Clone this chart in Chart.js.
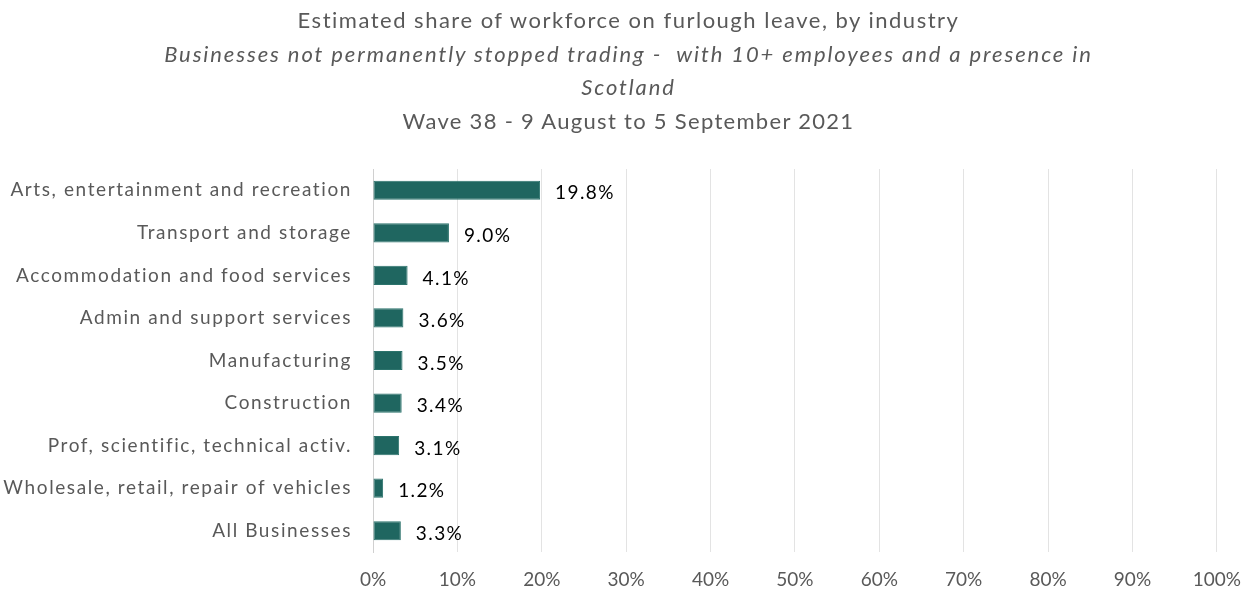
<!DOCTYPE html>
<html>
<head>
<meta charset="utf-8">
<script src="https://cdn.jsdelivr.net/npm/chart.js@4/dist/chart.umd.min.js"></script>
<style>
  html, body { margin: 0; padding: 0; background: #ffffff; }
  #wrap { position: relative; width: 1257px; height: 594px; }
  #titles { position: absolute; left: 0; top: 0; width: 1257px; text-align: center; color: #595959; font-family: Lato, "Open Sans", sans-serif; font-size: 22px; pointer-events: none; }
  #titles div { position: absolute; left: 0; width: 1257px; text-align: center; white-space: pre; }
  .it { font-style: italic; }
  canvas { position: absolute; left: 0; top: 0; }
</style>
</head>
<body>
<div id="wrap">
  <canvas id="c" width="1257" height="594"></canvas>
  <div id="titles"></div>
</div>
<script>
const titleLines = [
  "Estimated share of workforce on furlough leave, by industry",
  "Businesses not permanently stopped trading -  with 10+ employees and a presence in",
  "Scotland",
  "Wave 38 - 9 August to 5 September 2021"
];
const titleItalic = [false, true, true, false];
const titleTops = [6, 40, 73, 107];
const titleSpacing = [1.5, 1.9, 1.9, 1.3];

const categories = [
  "Arts, entertainment and recreation",
  "Transport and storage",
  "Accommodation and food services",
  "Admin and support services",
  "Manufacturing",
  "Construction",
  "Prof, scientific, technical activ.",
  "Wholesale, retail, repair of vehicles",
  "All Businesses"
];
const shareValues = [19.8, 9.0, 4.1, 3.6, 3.5, 3.4, 3.1, 1.2, 3.3];
const xTickValues = [0, 10, 20, 30, 40, 50, 60, 70, 80, 90, 100];

const tdiv = document.getElementById('titles');
titleLines.forEach((t, i) => {
  const d = document.createElement('div');
  d.textContent = t;
  if (titleItalic[i]) d.className = 'it';
  d.style.top = titleTops[i] + 'px';
  d.style.letterSpacing = titleSpacing[i] + 'px';
  tdiv.appendChild(d);
});

const valueLabels = {
  id: 'valueLabels',
  afterDatasetsDraw(chart) {
    const ctx = chart.ctx;
    const meta = chart.getDatasetMeta(0);
    ctx.save();
    ctx.font = '19px Lato, "Open Sans", sans-serif';
    ctx.letterSpacing = '1.4px';
    ctx.fillStyle = '#000000';
    ctx.textAlign = 'left';
    ctx.textBaseline = 'middle';
    meta.data.forEach((bar, i) => {
      ctx.fillText(shareValues[i].toFixed(1) + '%', bar.x + 15, bar.y + 3);
    });
    ctx.restore();
    // y-axis tick labels are drawn after this hook (ticks.z = 1): widen them
    ctx.letterSpacing = '1.6px';
  },
  afterDraw(chart) {
    chart.ctx.letterSpacing = '0px';
  }
};

new Chart(document.getElementById('c'), {
  type: 'bar',
  data: {
    labels: categories,
    datasets: [{
      data: shareValues,
      backgroundColor: '#1f6660',
      borderColor: '#2c736c',
      borderWidth: 1,
      borderSkipped: false,
      categoryPercentage: 1.0,
      barPercentage: 0.45
    }]
  },
  options: {
    indexAxis: 'y',
    responsive: false,
    animation: false,
    devicePixelRatio: 1,
    layout: { padding: { top: 169, right: 39, left: 0, bottom: 0 } },
    plugins: {
      legend: { display: false },
      title: { display: false },
      tooltip: { enabled: false }
    },
    scales: {
      x: {
        min: 0,
        max: 100,
        afterBuildTicks(scale) { scale.ticks = xTickValues.map(v => ({ value: v })); },
        afterFit(scale) { scale.height = 42; },
        ticks: {
          color: '#595959',
          font: { family: 'Lato, "Open Sans", sans-serif', size: 19 },
          padding: 16,
          callback: v => v + '%'
        },
        grid: { color: '#e3e3e3', lineWidth: 1, drawTicks: false },
        border: { display: false }
      },
      y: {
        afterFit(scale) { scale.width = 373; },
        ticks: {
          z: 1,
          color: '#595959',
          font: { family: 'Lato, "Open Sans", sans-serif', size: 19 },
          padding: 21
        },
        grid: { display: false, drawTicks: false },
        border: { display: true, color: '#d0d0d0', width: 1 }
      }
    }
  },
  plugins: [valueLabels]
});
</script>
</body>
</html>
